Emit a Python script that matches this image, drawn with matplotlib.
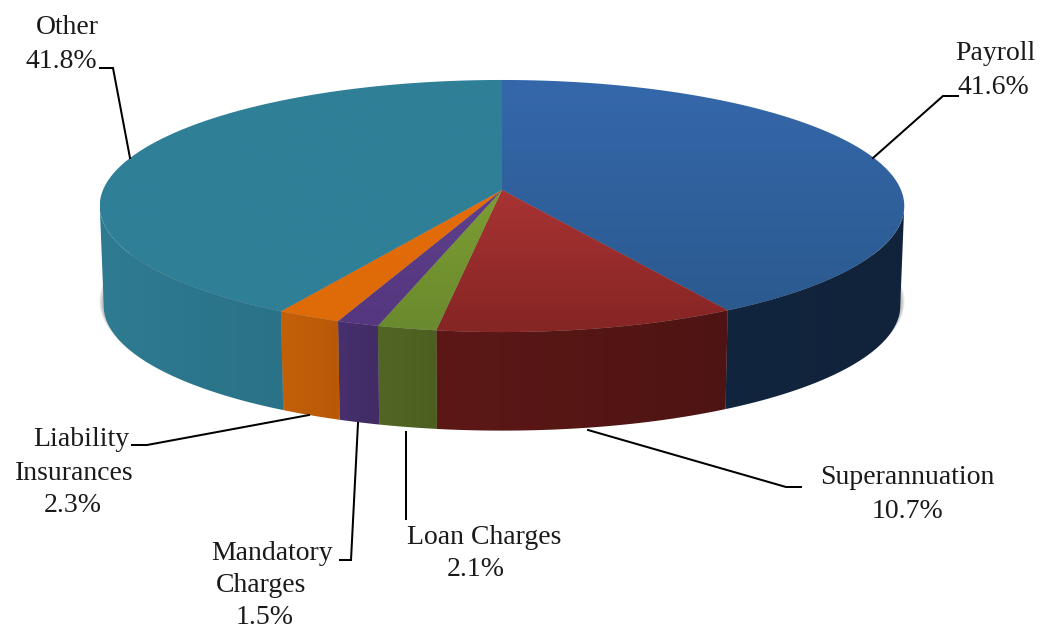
#!/usr/bin/env python3
"""Perspective 3D pie of expenditure shares, drawn from the values with patches."""
import numpy as np
import matplotlib; matplotlib.use("Agg")
import matplotlib.pyplot as plt
from matplotlib.patches import Polygon
from matplotlib.colors import to_rgb

categories=["Payroll","Superannuation","Loan Charges","Mandatory Charges","Liability Insurances","Other"]
shares=[41.6,10.7,2.1,1.5,2.3,41.8]
top_far=["#3568ab","#a93333","#7d9d33","#5f3f8c","#e46c0a","#2f7f98"]
top_near=["#2b5a8f","#852524","#6a8a2e","#54377f","#de6a08","#2f7f97"]
side_left=["#12253f","#5c1816","#526624","#47306e","#c46008","#2e7b92"]
side_right=["#11233a","#4e1413","#4c5f20","#412c64","#b95807","#2a7287"]
label_rows=[["Payroll"],["Superannuation"],["Loan Charges"],["Mandatory","Charges"],["Liability","Insurances"],["Other"]]
# centre of every text row, last row is the percentage
label_xy=[[(995,53),(993,87)],[(907,478),(907,511)],[(484,537),(476,569)],
          [(272,553),(261,586),(265,618)],[(81,440),(74,473),(73,505)],[(67,27),(61,61)]]
leaders=[[(958,96),(943,96),(873,158)],[(801,487),(786,487),(588,430)],[(406,432),(406,519)],
         [(358,423),(351,560),(340,560)],[(309,415),(147,445),(132,445)],[(100,68),(113,68),(130,158)]]

CX,CY,R,B,K=502,190,399,124,0.127
DEPTH,SHRINK=100,0.99

def ring(theta,scale=1.0,dy=0.0):
    # clockwise from 12 o'clock, perspective foreshortened towards the back
    s,c=np.sin(theta),np.cos(theta); w=1+K*c
    return np.c_[CX+scale*R*s/w, CY-scale*B*c/w+dy]

def shaded(ax,poly,c0,c1,vertical):
    g=np.linspace(to_rgb(c0),to_rgb(c1),64)
    img=g[:,None,:] if vertical else g[None,:,:]
    x0,y0=poly.min(axis=0); x1,y1=poly.max(axis=0)
    patch=Polygon(poly,closed=True,transform=ax.transData,fc="none",ec="none")
    ax.add_patch(patch)
    im=ax.imshow(img,extent=(x0,x1,y1,y0),aspect="auto",interpolation="bilinear",zorder=2)
    im.set_clip_path(patch)
    return im

fig=plt.figure(figsize=(10.44,6.29),dpi=100)
ax=fig.add_axes([0,0,1,1]); ax.set_xlim(0,1044); ax.set_ylim(629,0); ax.axis("off")

edges=np.cumsum([0]+shares)/sum(shares)*2*np.pi
# silhouette of the disc: only this front part of the wall can be seen
vis0=np.arccos(-K); vis1=2*np.pi-vis0

# soft shadow under the disc, mostly showing at the two ends
full=np.linspace(0,2*np.pi,361)
for i in range(7):
    ax.add_patch(Polygon(ring(full,SHRINK+0.011-i*0.002,DEPTH-5+i*0.5),closed=True,fc="black",ec="none",alpha=0.06,zorder=1))

for i in range(len(shares)):
    a,b=max(edges[i],vis0),min(edges[i+1],vis1)
    if b<=a: continue
    th=np.linspace(a,b,max(int(shares[i]*6),6))
    wall=np.r_[ring(th),ring(th[::-1],SHRINK,DEPTH)]
    shaded(ax,wall,side_left[i],side_right[i],False)

for i in range(len(shares)):
    th=np.linspace(edges[i],edges[i+1],max(int(shares[i]*6),6))
    sl=np.r_[[[CX,CY]],ring(th)]
    shaded(ax,sl,top_far[i],top_near[i],True).set_zorder(3)

for xy in leaders:
    p=np.array(xy); ax.plot(p[:,0],p[:,1],color="black",lw=1.45,solid_joinstyle="miter",zorder=4)

for rows,share,pos in zip(label_rows,shares,label_xy):
    for t,(x,y) in zip(rows+[f"{share}%"],pos):
        ax.text(x,y,t,ha="center",va="center",fontsize=20,family="Liberation Serif",color="#1a1a1a",zorder=5)

ax.set_xlim(0,1044); ax.set_ylim(629,0)
fig.savefig("out.png",dpi=100,facecolor="white")
